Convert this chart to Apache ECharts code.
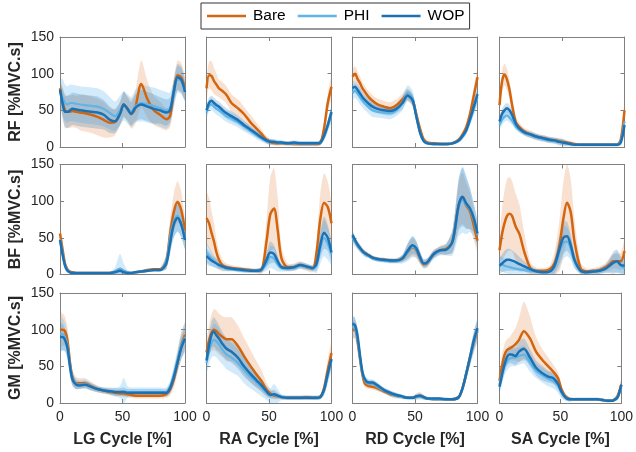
<!DOCTYPE html>
<html><head><meta charset="utf-8">
<script src="https://cdn.jsdelivr.net/npm/echarts@6/dist/echarts.min.js"></script>
<style>html,body{margin:0;padding:0;background:#fff}#c{width:636px;height:452px}</style>
</head><body><div id="c"></div>
<script>
// ---------- data ----------
const xPct = [0,2,4,6,8,10,13,16,20,25,30,35,40,44,48,51,54,57,60,65,70,75,80,85,88,91,94,97,100];
const muscles = ['RF','BF','GM'];
const tasks = ['LG','RA','RD','SA'];
const groups = ['Bare','PHI','WOP'];
const xTicks = [0,50,100];
const yTicks = [0,50,100,150];

// RF
const RF_LG_Bare = [80,62,50,48,48,49,48,47,46,44,41,37,33,34,46,58,52,45,52,86,65,50,44,38,42,75,98,95,80];
const RF_LG_Bare_sd = [10,20,22,22,22,22,22,24,25,25,25,24,20,18,16,16,18,20,22,32,25,20,18,15,15,18,20,20,15];
const RF_LG_PHI = [75,68,60,58,60,60,59,58,57,56,55,52,46,42,50,56,52,48,55,60,58,56,53,50,52,72,92,90,78];
const RF_LG_PHI_sd = [15,25,25,25,25,25,25,25,25,25,25,24,22,20,20,20,20,20,22,25,25,25,25,25,22,20,18,18,15];
const RF_LG_WOP = [78,60,48,48,50,52,51,50,49,48,47,44,37,35,45,58,52,45,53,58,55,52,50,47,50,75,95,92,75];
const RF_LG_WOP_sd = [12,20,22,22,22,22,22,22,22,22,22,20,18,16,16,18,16,16,18,20,20,20,18,18,16,16,18,18,12];

const RF_RA_Bare = [80,98,97,90,85,80,76,71,60,53,45,34,25,18,10,7,5,5,5,5,4,4,4,4,4,5,25,60,82];
const RF_RA_Bare_sd = [12,18,20,18,15,12,12,12,12,12,10,10,8,6,5,4,3,3,3,3,3,3,3,3,3,3,8,12,15];
const RF_RA_PHI = [47,56,58,55,52,50,46,42,39,34,28,22,16,12,8,7,7,6,6,5,5,5,5,5,5,6,14,28,45];
const RF_RA_PHI_sd = [8,8,8,8,8,8,8,8,8,7,7,6,5,5,4,4,4,4,3,3,3,3,3,3,3,3,6,8,10];
const RF_RA_WOP = [50,60,63,60,57,55,50,46,42,37,30,24,18,13,9,7,7,6,6,5,6,5,5,5,5,6,15,30,48];
const RF_RA_WOP_sd = [6,7,7,7,7,7,7,7,7,6,6,5,5,4,4,4,3,3,3,3,3,3,3,3,3,3,5,7,8];

const RF_RD_Bare = [96,100,93,87,80,75,68,63,58,55,53,57,65,72,64,45,25,10,6,5,4,4,5,10,17,27,45,70,95];
const RF_RD_Bare_sd = [10,10,10,9,8,8,8,8,8,8,8,8,8,8,8,8,6,4,3,2,2,2,2,3,4,5,8,10,12];
const RF_RD_PHI = [74,77,73,68,63,59,54,50,48,47,46,50,60,74,67,43,20,8,5,4,4,4,5,9,14,22,36,52,68];
const RF_RD_PHI_sd = [10,10,10,10,9,9,9,9,8,8,8,8,10,10,10,8,6,3,2,2,2,2,2,3,4,5,7,9,10];
const RF_RD_WOP = [80,82,78,73,68,64,59,55,52,50,49,52,60,70,64,42,20,8,5,4,4,4,5,9,15,23,38,55,72];
const RF_RD_WOP_sd = [8,8,8,8,7,7,7,7,6,6,6,6,8,8,8,7,5,3,2,2,2,2,2,3,4,5,6,8,8];

const RF_SA_Bare = [57,89,99,92,78,58,34,27,21,17,14,12,10,9,8,7,6,5,4,3,3,3,3,3,3,3,3,10,50];
const RF_SA_Bare_sd = [10,15,15,15,12,12,8,6,5,5,4,4,4,4,4,4,3,3,2,2,2,2,2,2,2,2,2,5,12];
const RF_SA_PHI = [30,37,41,43,40,36,28,23,19,16,13,11,9,8,7,6,5,4,3,3,3,3,3,3,3,3,3,8,35];
const RF_SA_PHI_sd = [6,7,7,7,7,6,5,4,4,4,4,4,4,4,5,5,4,3,2,2,2,2,2,2,2,2,2,4,8];
const RF_SA_WOP = [35,45,50,53,50,44,32,25,20,17,14,12,10,9,7,6,5,4,3,3,3,3,3,3,3,3,3,6,30];
const RF_SA_WOP_sd = [6,7,7,7,7,6,5,4,4,4,4,4,4,4,4,4,3,3,2,2,2,2,2,2,2,2,2,4,8];

// BF
const BF_LG_Bare = [56,35,15,7,4,3,2,2,2,2,2,2,2,4,7,5,2,2,3,4,6,7,7,18,55,85,99,88,60];
const BF_LG_Bare_sd = [10,10,6,3,2,1,1,1,1,1,1,1,1,2,3,2,1,1,1,2,2,2,2,10,20,25,28,25,15];
const BF_LG_PHI = [48,30,13,6,3,2,2,2,2,2,2,2,2,4,8,5,3,2,3,4,5,6,6,18,50,72,80,70,50];
const BF_LG_PHI_sd = [10,10,6,3,2,1,1,1,1,1,1,1,2,6,20,10,3,2,1,2,2,2,2,10,18,22,22,20,15];
const BF_LG_WOP = [47,28,12,5,3,2,2,2,2,2,2,2,2,3,5,3,2,2,3,4,5,6,6,15,42,68,77,68,47];
const BF_LG_WOP_sd = [8,8,5,3,2,1,1,1,1,1,1,1,1,2,4,2,1,1,1,2,2,2,2,8,15,18,18,16,12];

const BF_RA_Bare = [77,70,57,45,30,20,12,10,9,8,7,6,5,6,45,82,90,60,22,10,10,13,10,8,30,75,98,92,70];
const BF_RA_Bare_sd = [35,35,30,25,18,12,8,5,4,3,3,3,3,5,30,50,55,45,15,5,5,5,5,5,15,35,40,35,25];
const BF_RA_PHI = [30,26,22,18,15,12,10,8,7,6,5,5,5,6,15,24,22,14,9,8,9,12,10,8,12,35,50,42,28];
const BF_RA_PHI_sd = [12,12,10,8,7,6,5,4,3,3,3,3,3,4,10,15,15,10,5,4,4,4,4,4,10,20,25,22,15];
const BF_RA_WOP = [25,22,19,17,15,13,11,9,8,7,6,5,5,7,20,30,28,18,10,9,10,13,11,9,15,40,57,50,30];
const BF_RA_WOP_sd = [10,10,8,7,6,5,4,4,3,3,3,3,3,4,10,15,12,8,4,4,4,4,4,4,10,18,22,18,12];

const BF_RD_Bare = [52,46,40,36,32,29,26,23,21,20,19,19,22,30,37,33,22,14,16,28,33,35,45,95,104,94,86,67,46];
const BF_RD_Bare_sd = [6,5,5,5,4,4,3,3,3,3,3,3,5,10,12,10,8,6,6,6,6,8,15,30,35,30,25,20,15];
const BF_RD_PHI = [50,44,39,35,31,28,25,22,20,19,18,18,21,30,38,34,23,15,16,27,32,34,44,92,102,95,88,74,54];
const BF_RD_PHI_sd = [8,6,5,5,4,4,3,3,3,3,3,3,6,12,14,12,8,6,6,6,6,8,18,40,45,40,30,22,18];
const BF_RD_WOP = [54,47,41,36,32,29,26,23,21,20,19,19,22,32,40,36,24,15,17,28,33,34,45,95,106,97,90,77,56];
const BF_RD_WOP_sd = [6,5,5,5,4,4,3,3,3,3,3,3,5,10,12,10,8,5,5,5,5,7,15,35,40,35,28,20,15];

const BF_SA_Bare = [33,55,70,80,83,80,65,55,30,8,5,5,7,15,40,75,98,85,45,8,4,5,6,10,14,18,18,18,32];
const BF_SA_Bare_sd = [15,35,45,50,50,48,45,40,25,8,4,4,5,15,35,50,55,45,30,8,4,4,5,6,8,10,10,12,15];
const BF_SA_PHI = [15,14,12,11,10,9,8,7,6,5,4,3,4,10,30,43,45,35,18,5,3,4,5,8,11,15,17,12,8];
const BF_SA_PHI_sd = [10,10,10,10,10,8,7,6,5,4,3,3,4,10,20,22,20,15,10,4,3,3,4,5,8,12,14,10,8];
const BF_SA_WOP = [12,15,18,20,20,19,17,14,11,7,4,3,4,12,35,50,52,40,20,5,3,4,5,8,12,16,18,13,12];
const BF_SA_WOP_sd = [10,12,14,15,15,14,12,10,7,5,3,3,4,10,20,22,20,15,10,4,3,3,4,6,10,15,16,12,10];

// GM
const GM_LG_Bare = [100,100,98,85,55,35,27,27,27,23,19,17,15,14,13,13,12,11,10,10,10,10,10,12,18,32,55,78,93];
const GM_LG_Bare_sd = [25,22,20,18,15,10,8,7,7,6,5,4,4,4,4,4,4,4,4,4,4,4,4,5,8,12,15,18,15];
const GM_LG_PHI = [95,94,90,78,52,33,26,25,26,22,19,17,16,15,15,16,15,15,15,15,15,15,15,15,22,38,58,78,90];
const GM_LG_PHI_sd = [25,22,20,18,15,10,7,6,6,5,4,4,5,6,8,18,8,6,6,6,6,6,6,6,8,12,15,18,20];
const GM_LG_WOP = [90,90,86,75,50,32,25,24,25,22,19,17,16,15,15,15,14,14,14,14,14,14,14,14,20,35,55,75,88];
const GM_LG_WOP_sd = [20,18,15,15,12,8,6,5,5,5,4,4,4,5,5,6,5,5,5,5,5,5,5,5,7,10,12,15,15];

const GM_RA_Bare = [69,85,96,100,98,94,90,87,87,78,64,51,39,30,18,13,10,9,8,7,7,7,8,7,7,8,20,45,68];
const GM_RA_Bare_sd = [15,20,25,28,28,28,28,30,30,28,25,22,18,15,10,6,5,4,3,3,3,3,3,3,3,3,8,15,15];
const GM_RA_PHI = [55,70,82,86,84,80,72,66,62,55,45,36,28,21,14,10,11,9,8,7,7,7,7,7,7,8,16,38,58];
const GM_RA_PHI_sd = [15,18,20,22,22,22,20,20,20,18,18,16,14,12,10,10,15,10,4,3,3,3,3,3,3,3,6,12,12];
const GM_RA_WOP = [58,78,93,97,92,88,80,74,70,62,50,40,31,24,16,11,12,10,8,7,7,7,7,7,7,8,18,40,60];
const GM_RA_WOP_sd = [12,15,18,20,20,18,16,15,15,15,14,12,10,8,6,5,6,4,3,3,3,3,3,3,3,3,6,10,10];

const GM_RD_Bare = [100,100,85,60,38,26,23,22,20,16,12,10,8,7,7,9,10,8,6,5,5,5,5,8,20,40,62,82,98];
const GM_RD_Bare_sd = [12,12,12,10,8,5,4,4,4,3,3,3,2,2,2,4,5,3,2,2,2,2,2,3,5,8,10,12,12];
const GM_RD_PHI = [104,102,88,62,40,30,26,26,22,17,13,10,8,7,7,8,9,7,6,5,5,5,5,8,20,40,60,82,100];
const GM_RD_PHI_sd = [14,14,14,12,8,6,5,5,5,4,4,4,3,3,3,4,4,3,2,2,2,2,2,3,5,8,10,14,15];
const GM_RD_WOP = [108,106,92,65,42,32,28,28,24,18,14,11,9,7,7,9,10,8,6,6,6,5,5,8,20,40,62,85,102];
const GM_RD_WOP_sd = [10,10,10,8,6,5,4,4,4,3,3,3,2,2,2,3,3,3,2,2,2,2,2,3,5,8,10,12,12];

const GM_SA_Bare = [30,50,65,72,74,76,80,86,98,88,70,59,50,43,34,18,9,6,5,5,5,5,5,4,3,3,4,10,25];
const GM_SA_Bare_sd = [10,15,15,15,15,18,22,30,40,30,20,15,12,10,8,6,4,3,2,2,2,2,2,2,2,2,2,4,8];
const GM_SA_PHI = [25,40,50,56,60,62,62,64,66,55,44,38,33,30,24,14,8,5,5,5,5,5,5,4,3,3,4,8,22];
const GM_SA_PHI_sd = [8,12,12,12,12,12,12,12,12,12,10,10,10,10,10,8,5,3,2,2,2,2,2,2,2,2,2,4,6];
const GM_SA_WOP = [22,38,52,62,66,66,64,70,74,62,48,41,36,34,26,15,8,5,5,5,5,5,5,4,3,3,4,8,25];
const GM_SA_WOP_sd = [8,12,12,12,12,12,12,14,14,12,10,10,8,8,8,6,4,3,2,2,2,2,2,2,2,2,2,4,6];

const DATA = {
  RF_LG_Bare,RF_LG_Bare_sd,RF_LG_PHI,RF_LG_PHI_sd,RF_LG_WOP,RF_LG_WOP_sd,
  RF_RA_Bare,RF_RA_Bare_sd,RF_RA_PHI,RF_RA_PHI_sd,RF_RA_WOP,RF_RA_WOP_sd,
  RF_RD_Bare,RF_RD_Bare_sd,RF_RD_PHI,RF_RD_PHI_sd,RF_RD_WOP,RF_RD_WOP_sd,
  RF_SA_Bare,RF_SA_Bare_sd,RF_SA_PHI,RF_SA_PHI_sd,RF_SA_WOP,RF_SA_WOP_sd,
  BF_LG_Bare,BF_LG_Bare_sd,BF_LG_PHI,BF_LG_PHI_sd,BF_LG_WOP,BF_LG_WOP_sd,
  BF_RA_Bare,BF_RA_Bare_sd,BF_RA_PHI,BF_RA_PHI_sd,BF_RA_WOP,BF_RA_WOP_sd,
  BF_RD_Bare,BF_RD_Bare_sd,BF_RD_PHI,BF_RD_PHI_sd,BF_RD_WOP,BF_RD_WOP_sd,
  BF_SA_Bare,BF_SA_Bare_sd,BF_SA_PHI,BF_SA_PHI_sd,BF_SA_WOP,BF_SA_WOP_sd,
  GM_LG_Bare,GM_LG_Bare_sd,GM_LG_PHI,GM_LG_PHI_sd,GM_LG_WOP,GM_LG_WOP_sd,
  GM_RA_Bare,GM_RA_Bare_sd,GM_RA_PHI,GM_RA_PHI_sd,GM_RA_WOP,GM_RA_WOP_sd,
  GM_RD_Bare,GM_RD_Bare_sd,GM_RD_PHI,GM_RD_PHI_sd,GM_RD_WOP,GM_RD_WOP_sd,
  GM_SA_Bare,GM_SA_Bare_sd,GM_SA_PHI,GM_SA_PHI_sd,GM_SA_WOP,GM_SA_WOP_sd
};

// ---------- styling ----------
const lineColors = {Bare:'#D4650F', PHI:'#5FB4E8', WOP:'#1A72B5'};
const bandColors = {Bare:'rgba(222,120,40,0.22)', PHI:'rgba(95,180,232,0.28)', WOP:'rgba(26,114,181,0.22)'};
const lineWidths = {Bare:2.5, PHI:2.2, WOP:2.5};
const FONT = 'Liberation Sans, Arial, Helvetica, sans-serif';
const lefts = [60, 206.5, 352.5, 499.5];
const tops = [37, 164.5, 293];
const W = 125, H = 110;
const axisGrey = '#808080';
const yMax = yTicks[yTicks.length-1];

const grid = [], xAxis = [], yAxis = [], series = [];
const N = 12;
for (let gi = 0; gi < N; gi++) {
  const r = Math.floor(gi / 4), c = gi % 4;
  grid.push({left: lefts[c], top: tops[r], width: W, height: H, containLabel: false});
}
function xAx(gi, top) {
  const r = Math.floor(gi / 4), c = gi % 4;
  return {
    gridIndex: gi, type: 'value', min: xTicks[0], max: xTicks[xTicks.length-1], interval: 50,
    position: top ? 'top' : 'bottom',
    axisLine: {show: true, onZero: false, lineStyle: {color: axisGrey, width: 1}},
    axisTick: {show: true, inside: true, length: 4, lineStyle: {color: axisGrey}},
    axisLabel: {show: !top && r === 2, fontSize: 14, color: '#262626', fontFamily: FONT, margin: 7},
    splitLine: {show: false},
    name: (!top && r === 2) ? tasks[c] + ' Cycle [%]' : '',
    nameLocation: 'middle', nameGap: 29,
    nameTextStyle: {fontSize: 16, fontWeight: 'bold', color: '#262626', fontFamily: FONT}
  };
}
function yAx(gi, right) {
  const r = Math.floor(gi / 4), c = gi % 4;
  return {
    gridIndex: gi, type: 'value', min: yTicks[0], max: yMax, interval: 50,
    position: right ? 'right' : 'left',
    axisLine: {show: true, onZero: false, lineStyle: {color: axisGrey, width: 1}},
    axisTick: {show: true, inside: true, length: 4, lineStyle: {color: axisGrey}},
    axisLabel: {show: !right && c === 0, fontSize: 14, color: '#262626', fontFamily: FONT, margin: 6},
    splitLine: {show: false},
    name: (!right && c === 0) ? muscles[r] + ' [%MVC.s]' : '',
    nameLocation: 'middle', nameGap: 36, nameRotate: 90,
    nameTextStyle: {fontSize: 16, fontWeight: 'bold', color: '#262626', fontFamily: FONT}
  };
}
for (let gi = 0; gi < N; gi++) { xAxis.push(xAx(gi, false)); yAxis.push(yAx(gi, false)); }
for (let gi = 0; gi < N; gi++) { xAxis.push(xAx(gi, true)); yAxis.push(yAx(gi, true)); }

muscles.forEach((m, r) => {
  tasks.forEach((t, c) => {
    const gi = r * 4 + c;
    groups.forEach(g => {
      const mean = DATA[`${m}_${t}_${g}`];
      const sd = DATA[`${m}_${t}_${g}_sd`];
      const lower = mean.map((v, i) => Math.max(0, v - sd[i]));
      const upper = mean.map((v, i) => Math.min(yMax, v + sd[i]));
      series.push({
        type: 'custom', name: `band_${gi}_${g}`, xAxisIndex: gi, yAxisIndex: gi,
        silent: true, clip: true, animation: false,
        data: [[50, 75]],
        renderItem: (params, api) => {
          const pts = [];
          for (let i = 0; i < xPct.length; i++) pts.push(api.coord([xPct[i], upper[i]]));
          for (let i = xPct.length - 1; i >= 0; i--) pts.push(api.coord([xPct[i], lower[i]]));
          return {type: 'polygon', shape: {points: pts, smooth: 0.25}, style: {fill: bandColors[g]}};
        }
      });
      series.push({
        type: 'line', name: g, xAxisIndex: gi, yAxisIndex: gi,
        data: xPct.map((x, i) => [x, mean[i]]), symbol: 'none', showSymbol: false, smooth: 0.3,
        lineStyle: {color: lineColors[g], width: lineWidths[g]}, itemStyle: {color: lineColors[g]},
        animation: false
      });
    });
  });
});

const chart = echarts.init(document.getElementById('c'), null, {renderer: 'canvas'});
chart.setOption({
  backgroundColor: '#fff',
  animation: false,
  legend: {
    data: groups.map(g => ({name: g, icon: 'rect'})), top: 3, left: 201, orient: 'horizontal',
    itemWidth: 39, itemHeight: 2.5, itemGap: 12,
    borderColor: '#333', borderWidth: 1, padding: [5, 5, 5, 6],
    textStyle: {fontSize: 15.5, color: '#000', fontFamily: FONT, padding: [0, 0, 0, 2]},
    selectedMode: false
  },
  grid, xAxis, yAxis, series
});
</script>
</body></html>
